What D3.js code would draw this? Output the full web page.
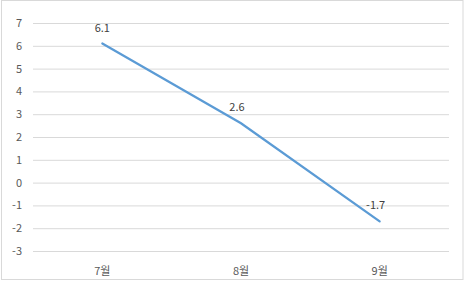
<!DOCTYPE html>
<html>
<head>
<meta charset="utf-8">
<script src="https://cdn.jsdelivr.net/npm/d3@7"></script>
<style>
    html, body { margin: 0; padding: 0; background: #fff; }
    svg text { font-family: 'Noto Sans CJK KR', 'Noto Sans', sans-serif; fill: #595959; }
</style>
</head>
<body>
<div id="chart"></div>
<script>
const categories = ['7월', '8월', '9월']
const values = [6.1, 2.6, -1.7]
const yTicks = [7, 6, 5, 4, 3, 2, 1, 0, -1, -2, -3]

const width = 465
const height = 284
const margin = { top: 23, right: 16, bottom: 33, left: 33 }

const svg = d3.select('#chart').append('svg').attr('width', width).attr('height', height)

// 테두리
svg.append('rect')
    .attr('x', 1.5).attr('y', 0.5)
    .attr('width', width - 3.5).attr('height', height - 5)
    .attr('fill', 'none').attr('stroke', '#d9d9d9')

const x = d3.scaleBand().domain(categories).range([margin.left, width - margin.right])
const y = d3.scaleLinear().domain([-3, 7]).range([height - margin.bottom, margin.top])

const gYAxis = svg.append('g').attr('transform', `translate(${margin.left}, 0)`)
gYAxis.call(
    d3.axisLeft(y)
        .tickValues(yTicks)
        .tickSize(-(width - margin.left - margin.right))
        .tickPadding(11)
        .tickFormat((d) => String(d))
)
gYAxis.select('.domain').remove()
gYAxis.selectAll('line').attr('stroke', '#d9d9d9')
gYAxis.selectAll('text').style('font-size', '11px')

const gXAxis = svg.append('g').attr('transform', `translate(0, ${height - margin.bottom})`)
gXAxis.call(d3.axisBottom(x).tickSize(0).tickPadding(16))
gXAxis.select('.domain').remove()
gXAxis.selectAll('text').style('font-size', '11px')

const line = d3.line()
    .x((d, i) => x(categories[i]) + x.bandwidth() / 2)
    .y((d) => y(d))

svg.append('path')
    .datum(values)
    .attr('d', line)
    .attr('fill', 'none')
    .attr('stroke', '#5b9bd5')
    .attr('stroke-width', 2.25)
    .attr('stroke-linecap', 'round')

svg.selectAll('.label')
    .data(values)
    .enter()
    .append('text')
    .attr('class', 'label')
    .attr('x', (d, i) => x(categories[i]) + x.bandwidth() / 2 - (i == 0 ? 0 : 4))
    .attr('y', (d) => y(d) - 12)
    .attr('text-anchor', 'middle')
    .style('font-size', '11px')
    .style('fill', '#404040')
    .text((d) => d)
</script>
</body>
</html>
